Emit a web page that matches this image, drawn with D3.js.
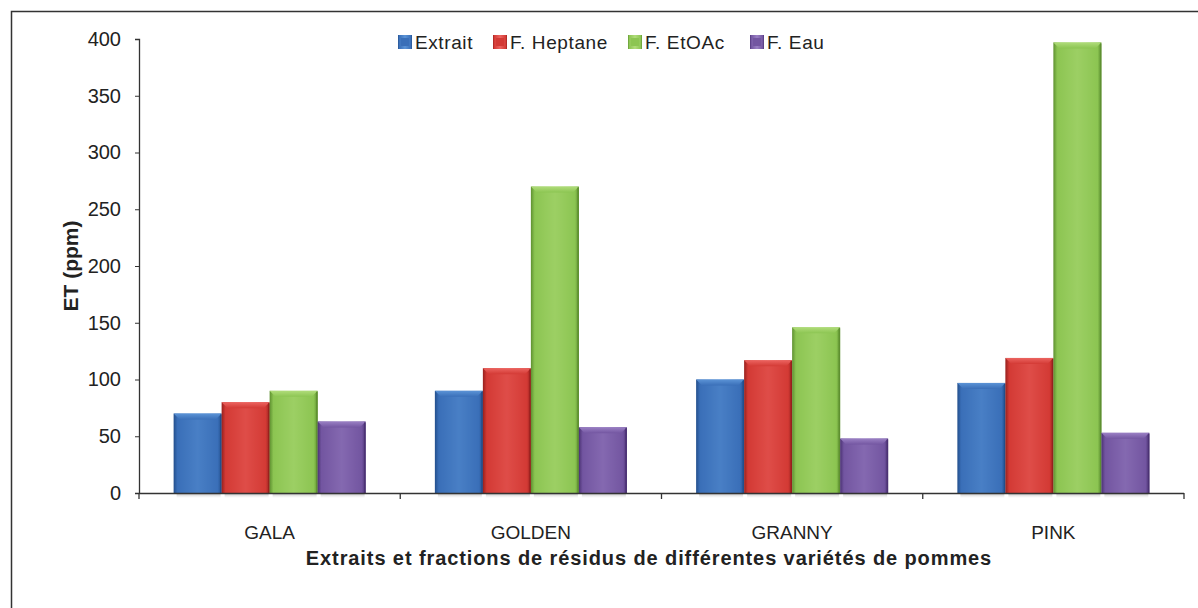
<!DOCTYPE html>
<html><head><meta charset="utf-8">
<script src="https://cdn.jsdelivr.net/npm/d3@7"></script>
<style>body{margin:0;background:#fff}svg{display:block;font-family:"Liberation Sans",Arial,sans-serif}</style>
</head><body><svg id="c" width="1198" height="608"></svg>
<script>
const categories = ["GALA","GOLDEN","GRANNY","PINK"];
const seriesNames = ["Extrait","F. Heptane","F. EtOAc","F. Eau"];
const extrait = [70, 90, 100, 97];
const heptane = [80, 110, 117, 119];
const etoac = [90, 270, 146, 397];
const eau = [63, 58, 48, 53];
const yTicks = [0,50,100,150,200,250,300,350,400];
const seriesValues = [extrait, heptane, etoac, eau];
const colors = [
  {base:"#3a6fb8", light:"#5b93d6", dark:"#234f8c"},
  {base:"#d33a35", light:"#ec6460", dark:"#97201d"},
  {base:"#8cc552", light:"#b0dc7a", dark:"#5e9030"},
  {base:"#7356a1", light:"#9a80c4", dark:"#4b3274"}
];

const svg = d3.select("#c");
const m = {left:139, right:1184, top:39, bottom:493};
svg.append("path").attr("d","M11.5,608 L11.5,11.5 L1198,11.5").attr("fill","none").attr("stroke","#333").attr("stroke-width",1.5);

const x0 = d3.scaleBand().domain(categories).range([m.left, m.right]).paddingInner(0).paddingOuter(0);
const groupPad = 0.265;
const x1 = d3.scaleBand().domain(seriesNames).range([x0.bandwidth()*groupPad/2, x0.bandwidth()*(1-groupPad/2)]).padding(0);
const y = d3.scaleLinear().domain([0,400]).range([m.bottom, m.top]);

const defs = svg.append("defs");
colors.forEach((c,i)=>{
  const g = defs.append("linearGradient").attr("id","g"+i).attr("x1","0").attr("x2","1").attr("y1","0").attr("y2","0");
  g.append("stop").attr("offset","0").attr("stop-color",c.dark);
  g.append("stop").attr("offset","0.08").attr("stop-color",c.base);
  g.append("stop").attr("offset","0.5").attr("stop-color",c.light);
  g.append("stop").attr("offset","0.92").attr("stop-color",c.base);
  g.append("stop").attr("offset","1").attr("stop-color",c.dark);
  const gv = defs.append("linearGradient").attr("id","v"+i).attr("x1","0").attr("x2","0").attr("y1","0").attr("y2","1");
  gv.append("stop").attr("offset","0").attr("stop-color",c.light);
  gv.append("stop").attr("offset","1").attr("stop-color",c.base);
});
const sh = defs.append("linearGradient").attr("id","sh").attr("x1","0").attr("x2","0").attr("y1","0").attr("y2","1");
sh.append("stop").attr("offset","0").attr("stop-color","#999").attr("stop-opacity",0.7);
sh.append("stop").attr("offset","1").attr("stop-color","#ccc").attr("stop-opacity",0);

categories.forEach((cat)=>{
  seriesNames.forEach((s)=>{
    const bx = x0(cat)+x1(s);
    svg.append("rect").attr("x",bx+3).attr("y",m.bottom).attr("width",x1.bandwidth()-4).attr("height",5).attr("fill","url(#sh)");
  });
});

categories.forEach((cat,ci)=>{
  seriesNames.forEach((s,si)=>{
    const v = seriesValues[si][ci];
    const bx = x0(cat)+x1(s), bw = x1.bandwidth(), by = y(v), bh = y(0)-y(v);
    const c = colors[si];
    const g = svg.append("g");
    g.append("rect").attr("x",bx).attr("y",by).attr("width",bw).attr("height",bh).attr("fill","url(#g"+si+")");
    g.append("rect").attr("x",bx+4).attr("y",by+4).attr("width",bw-8).attr("height",Math.max(0,bh-4)).attr("fill",c.base).attr("opacity",0.55);
    g.append("path").attr("d",`M${bx},${by} L${bx+bw},${by} L${bx+bw-6},${by+6} L${bx+6},${by+6} Z`).attr("fill","url(#v"+si+")");
    g.append("line").attr("x1",bx+bw-0.75).attr("x2",bx+bw-0.75).attr("y1",by+1).attr("y2",y(0)).attr("stroke",c.dark).attr("stroke-width",1.5);
  });
});

const yAxis = d3.axisLeft(y).tickValues(yTicks).tickSize(4).tickPadding(14);
const ya = svg.append("g").attr("transform",`translate(${m.left},0)`).call(yAxis);
ya.select(".domain").attr("stroke","#333").attr("stroke-width",1.3).attr("d",`M-4,${m.top}.5H0.5V${m.bottom}`);
ya.selectAll(".tick line").attr("stroke","#333");
ya.selectAll(".tick text").attr("font-size",20).attr("fill","#222").attr("font-family","Liberation Sans, Arial, sans-serif");

svg.append("line").attr("x1",m.left-4).attr("x2",m.right).attr("y1",m.bottom+0.5).attr("y2",m.bottom+0.5).attr("stroke","#333").attr("stroke-width",1.5);
const bounds = categories.map(c=>x0(c)).concat([m.right]);
svg.selectAll(".xt").data(bounds).enter().append("line").attr("x1",d=>d).attr("x2",d=>d).attr("y1",m.bottom).attr("y2",m.bottom+6).attr("stroke","#333").attr("stroke-width",1.3);
svg.selectAll(".xl").data(categories).enter().append("text").attr("x",d=>x0(d)+x0.bandwidth()/2).attr("y",539).attr("text-anchor","middle").attr("font-size",19).attr("fill","#222").text(d=>d);

svg.append("text").attr("x",649).attr("y",565).attr("text-anchor","middle").attr("font-size",20).attr("letter-spacing",0.9).attr("font-weight","bold").attr("fill","#222").text("Extraits et fractions de résidus de différentes variétés de pommes");
svg.append("text").attr("transform","translate(78,266) rotate(-90)").attr("text-anchor","middle").attr("font-size",21).attr("font-weight","bold").attr("fill","#222").text("ET (ppm)");

const legX = [398, 493, 628, 750];
seriesNames.forEach((s,i)=>{
  const g = svg.append("g").attr("transform",`translate(${legX[i]},35)`);
  g.append("rect").attr("width",14).attr("height",14).attr("fill","url(#g"+i+")");
  g.append("rect").attr("x",3).attr("y",3).attr("width",8).attr("height",8).attr("fill",colors[i].base);
  g.append("text").attr("x",17).attr("y",14).attr("font-size",19).attr("letter-spacing",0.6).attr("fill","#222").text(s);
});
</script></body></html>
